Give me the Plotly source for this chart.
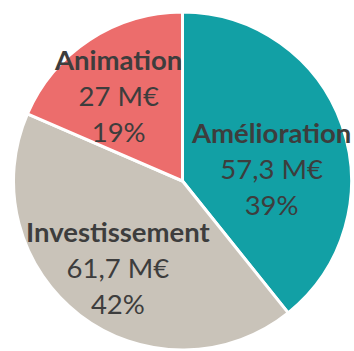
import plotly.graph_objects as go

# Budget split (millions of euros)
labels = ["Amélioration", "Investissement", "Animation"]
values = [57.3, 61.7, 27]
percents = ["39%", "42%", "19%"]
colors = ["#12A0A5", "#C9C3B9", "#EC6D6C"]

W, H = 354, 351
FONT = "Lato"
TEXT_COLOR = "#3d3d3d"

# Label block centres (pixels from top-left) for each slice
label_pos = [(271, 169), (118, 267), (118, 95)]


def fmt_value(v):
    s = f"{v:g}".replace(".", ",")
    return f"{s} M€"


fig = go.Figure(
    go.Pie(
        labels=labels,
        values=values,
        sort=False,
        direction="clockwise",
        rotation=0,
        textinfo="none",
        hoverinfo="label+value",
        marker=dict(colors=colors, line=dict(color="white", width=3)),
        domain=dict(x=[(182.5 - 169) / W, (182.5 + 169) / W],
                    y=[(H - 181 - 169) / H, (H - 181 + 169) / H]),
        showlegend=False,
    )
)

annotations = []
for lab, val, pct, (px, py) in zip(labels, values, percents, label_pos):
    annotations.append(dict(
        x=px / W, y=1 - py / H, xref="paper", yref="paper",
        xanchor="center", yanchor="middle", showarrow=False,
        text=f"<b>{lab}</b><br>{fmt_value(val)}<br>{pct}",
        font=dict(family=FONT, size=27.5, color=TEXT_COLOR),
        align="center",
    ))

fig.update_layout(
    width=W, height=H,
    margin=dict(l=0, r=0, t=0, b=0),
    paper_bgcolor="white",
    plot_bgcolor="white",
    annotations=annotations,
)

fig.write_html("out.html")
